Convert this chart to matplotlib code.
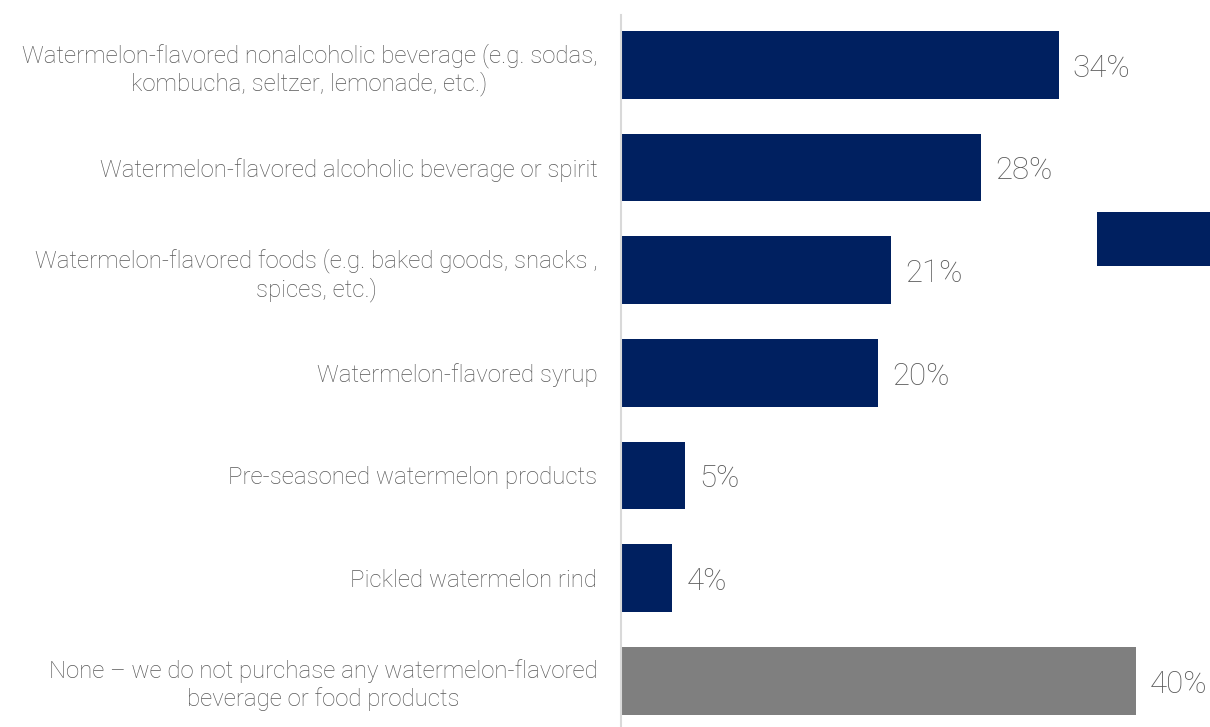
import matplotlib
matplotlib.use("Agg")
import matplotlib.pyplot as plt
from matplotlib.patches import Rectangle

categories = [
    "Watermelon-flavored nonalcoholic beverage (e.g. sodas,\nkombucha, seltzer, lemonade, etc.)",
    "Watermelon-flavored alcoholic beverage or spirit",
    "Watermelon-flavored foods (e.g. baked goods, snacks ,\nspices, etc.)",
    "Watermelon-flavored syrup",
    "Pre-seasoned watermelon products",
    "Pickled watermelon rind",
    "None \u2013 we do not purchase any watermelon-flavored\nbeverage or food products",
]
values = [34, 28, 21, 20, 5, 4, 40]
value_labels = ["34%", "28%", "21%", "20%", "5%", "4%", "40%"]
bar_colors = ["#002060"] * 6 + ["#7f7f7f"]

TEXT = "#595959"
plt.rcParams["font.family"] = ["Roboto", "DejaVu Sans"]

fig = plt.figure(figsize=(12.10, 7.27), dpi=100)
ax = fig.add_axes([621 / 1210, 0.0, 1 - 621 / 1210, 1 - 15 / 727])

y = list(range(len(categories)))
ax.barh(y, values, height=0.66, color=bar_colors, edgecolor="none")

for yi, v, lab in zip(y, values, value_labels):
    ax.annotate(lab, (v, yi), xytext=(10, -2.5), textcoords="offset points",
                va="center", ha="left", fontsize=22.5, color=TEXT,
                fontweight="light")

ax.set_xlim(0, 45.75)
ax.set_ylim(6.45, -0.485)
ax.set_yticks(y)
ax.set_yticklabels(categories, fontsize=17.3, color=TEXT, fontweight="light",
                   linespacing=1.22)
for t in ax.get_yticklabels():
    t.set_multialignment("center")
ax.tick_params(axis="y", length=0, pad=17)
ax.set_xticks([])

for side in ("top", "right", "bottom"):
    ax.spines[side].set_visible(False)
ax.spines["left"].set_color("#d9d9d9")
ax.spines["left"].set_linewidth(1.5)

# legend key swatch at the right edge
fig.patches.append(Rectangle((1097 / 1210, 1 - 266 / 727), 113 / 1210, 54 / 727,
                             transform=fig.transFigure, facecolor="#002060",
                             edgecolor="none"))

fig.savefig("out.png", dpi=100)
